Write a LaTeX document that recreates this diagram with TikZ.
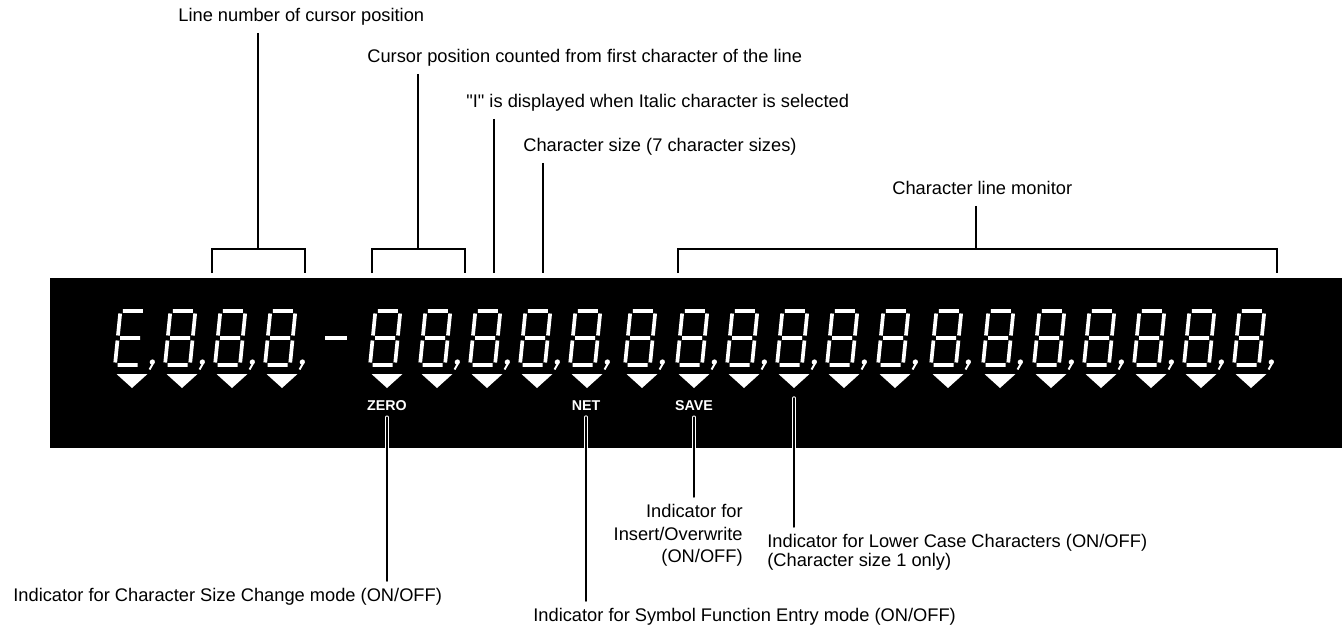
\documentclass[tikz,border=0pt]{standalone}
\usepackage{fontspec}
\setmainfont{Liberation Sans}
\newfontfamily\plainquote{Liberation Sans}
\usetikzlibrary{positioning,calc}
\tikzset{
  lead/.style={draw=black,line width=0.85pt},
  panellead/.style={draw=white,line width=0.55pt,double=black,double distance=0.85pt,line cap=round},
  seg/.style={draw=white,line width=2.1pt},
  lbl/.style={inner sep=4pt,text height=7.6pt,text depth=2.2pt},
  multilbl/.style={inner sep=4pt},
  paneltag/.style={text=white,inner sep=3.3pt,font=\bfseries\fontsize{8.1}{9}\selectfont}
}

\begin{document}
\begin{tikzpicture}[x=0.02cm,y=-0.02cm,font=\fontsize{10.4}{12.8}\selectfont]
\path[use as bounding box] (0,0) rectangle (1342,632);
\fill[black] (50,278) rectangle (1342,448);
\foreach \tx [count=\n] in {132,182,232,282,387,437,487,537,587,642,694,744,794,844,895,948,1000,1051,1101,1151,1201,1251}{
  \fill[white] (\tx-15.5,374) -- (\tx+15.5,374) -- (\tx,388) -- cycle;
  \begin{scope}[shift={(\tx-17,365)},xslant=0.1]
    \draw[seg] (2.5,-54) -- (22.5,-54) (2.5,-27) -- (22.5,-27) (2.5,0) -- (22.5,0)
      (0,-2.5) -- (0,-24.5) (0,-29.5) -- (0,-51.5);
    \ifnum\n>1
      \draw[seg] (25,-2.5) -- (25,-24.5) (25,-29.5) -- (25,-51.5);
    \fi
    \ifnum\n=5 \else
      \fill[white] (37,-3) circle (2.6);
      \draw[white,line width=1.1pt] (38.5,-3) -- (35,4.5);
    \fi
  \end{scope}
}
\draw[seg] (325,338) -- (347,338);

\node[paneltag] (zero) at (387,406) {ZERO};
\node[paneltag] (net) at (586,406) {NET};
\node[paneltag] (save) at (694,406) {SAVE};
\coordinate (lcstart) at (794,398);

\node[lbl,anchor=west] (sizemode) at (6,597) {Indicator for Character Size Change mode (ON/OFF)};
\node[lbl,anchor=west] (symmode) at (526,617) {Indicator for Symbol Function Entry mode (ON/OFF)};
\node[multilbl,anchor=north east,align=right] (insmode) at (750,497) {Indicator for\\Insert/Overwrite\\(ON/OFF)};
\node[multilbl,anchor=north west,align=left,font=\fontsize{10.4}{10.6}\selectfont] (lcmode) at (760,527)
  {Indicator for Lower Case Characters (ON/OFF)\\(Character size 1 only)};
\draw[panellead] (zero.south) -- (zero.south |- sizemode.north);
\draw[panellead] (net.south) -- (net.south |- symmode.north);
\draw[panellead] (save.south) -- (save.south |- insmode.north);
\draw[panellead] (lcstart) -- (lcstart |- lcmode.north);

\node[lbl,anchor=west] (linenum) at (171,17) {Line number of cursor position};
\node[lbl,anchor=west] (cursorpos) at (360,58) {Cursor position counted from first character of the line};
\node[lbl,anchor=west] (italic) at (459,103) {\plainquote "I" is displayed when Italic character is selected};
\node[lbl,anchor=west] (charsize) at (516,147) {Character size (7 character sizes)};
\node[lbl,anchor=west] (linemon) at (885,190) {Character line monitor};

\coordinate (linenumL) at (212,273);
\coordinate (linenumR) at (305,273);
\coordinate (linenumM) at (258,249);
\coordinate (cursorL) at (372,273);
\coordinate (cursorR) at (465,273);
\coordinate (cursorM) at (418,249);
\coordinate (italicE) at (494,273);
\coordinate (charsizeE) at (543,273);
\coordinate (linemonL) at (678,273);
\coordinate (linemonR) at (1277,273);
\coordinate (linemonM) at (976,249);
\draw[lead] (linenumL) |- (linenumR |- linenumM) -- (linenumR);
\draw[lead] (linenum.south -| linenumM) -- (linenumM);
\draw[lead] (cursorL) |- (cursorR |- cursorM) -- (cursorR);
\draw[lead] (cursorpos.south -| cursorM) -- (cursorM);
\draw[lead] (italic.south -| italicE) -- (italicE);
\draw[lead] (charsize.south -| charsizeE) -- (charsizeE);
\draw[lead] (linemonL) |- (linemonR |- linemonM) -- (linemonR);
\draw[lead] (linemon.south -| linemonM) -- (linemonM);
\end{tikzpicture}
\end{document}
